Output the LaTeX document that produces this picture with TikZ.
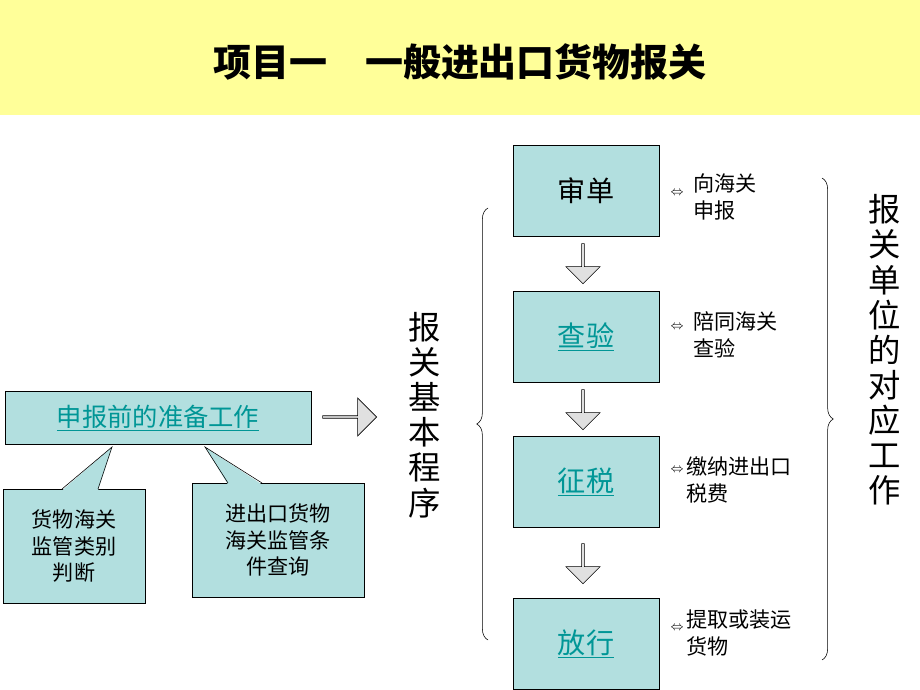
\documentclass[tikz,border=0pt]{standalone}
\usepackage{fontspec}
\setmainfont{Noto Sans CJK SC}
\usetikzlibrary{shapes.arrows,decorations.pathreplacing}
\definecolor{band}{RGB}{255,255,153}
\definecolor{boxfill}{RGB}{178,223,223}
\definecolor{linkc}{RGB}{0,150,150}
\begin{document}
\begin{tikzpicture}[x=0.025cm,y=-0.025cm,
  stepbox/.style={draw,fill=boxfill,minimum width=3.65cm,minimum height=2.28cm,font=\fontsize{20}{24}\selectfont},
  note/.style={draw,fill=boxfill,align=center,font=\fontsize{15}{19}\selectfont,inner sep=2pt},
  down/.style={single arrow,draw,fill=black!12,shape border rotate=270,minimum width=0.85cm,single arrow head extend=0.08cm,minimum height=1cm,inner sep=0pt},
  side/.style={anchor=west,align=left,font=\fontsize{15}{19}\selectfont,inner sep=0pt},
  dbl/.style={anchor=center,font=\fontsize{9}{9}\selectfont},
  vert/.style={align=center,font=\fontsize{23}{25}\selectfont}]
\useasboundingbox (0,0) rectangle (920,690);
\fill[band] (0,0) rectangle (920,115);
\node[font=\bfseries\fontsize{27}{30}\selectfont] (title) at (460,62) {项目一\quad 一般进出口货物报关};
% steps
\node[stepbox] (s1) at (586,191) {审单};
\node[stepbox,text=linkc] (s2) at (586,337) {\underline{查验}};
\node[stepbox,text=linkc] (s3) at (586,482) {\underline{征税}};
\node[stepbox,text=linkc] (s4) at (586,644) {\underline{放行}};
\node[down] (a1) at (583,263) {};
\node[down] (a2) at (583,409) {};
\node[down] (a3) at (583,563) {};
% preparation
\node[draw,fill=boxfill,minimum width=7.65cm,minimum height=1.32cm,text=linkc,font=\fontsize{18}{22}\selectfont] (prep) at (158,418) {\underline{申报前的准备工作}};
\node[single arrow,draw,fill=black!12,minimum width=0.95cm,minimum height=1.35cm,single arrow head extend=0.1cm,inner sep=0pt] (ra) at (349,417) {};
\node[note,minimum width=3.55cm,minimum height=2.85cm] (n1) at (74,546) {货物海关\\监管类别\\判断};
\node[note,minimum width=4.3cm,minimum height=2.85cm] (n2) at (278,540) {进出口货物\\海关监管条\\件查询};
\fill[boxfill] (62,490.5) -- (112,447) -- (98,490.5) -- cycle;
\draw (62,489) -- (112,447) -- (98,489);
\fill[boxfill] (228,484.5) -- (205,447) -- (262,484.5) -- cycle;
\draw (228,483) -- (205,447) -- (262,483);
% program label
\node[vert] (prog) at (425,415) {报\\关\\基\\本\\程\\序};
\draw[decorate,decoration={brace,amplitude=8pt}] (488,640) -- (488,208);
% right side
\node[dbl] (d1) at (677,193) {$\Leftrightarrow$};
\node[side] (t1) at (693,197) {向海关\\申报};
\node[dbl] (d2) at (677,327) {$\Leftrightarrow$};
\node[side] (t2) at (693,335) {陪同海关\\查验};
\node[dbl] (d3) at (677,470) {$\Leftrightarrow$};
\node[side] (t3) at (686,480) {缴纳进出口\\税费};
\node[dbl] (d4) at (677,628) {$\Leftrightarrow$};
\node[side] (t4) at (686,633) {提取或装运\\货物};
\draw[decorate,decoration={brace,amplitude=8pt}] (822,178) -- (822,660);
\node[vert] (unit) at (885,350) {报\\关\\单\\位\\的\\对\\应\\工\\作};
\end{tikzpicture}
\end{document}
